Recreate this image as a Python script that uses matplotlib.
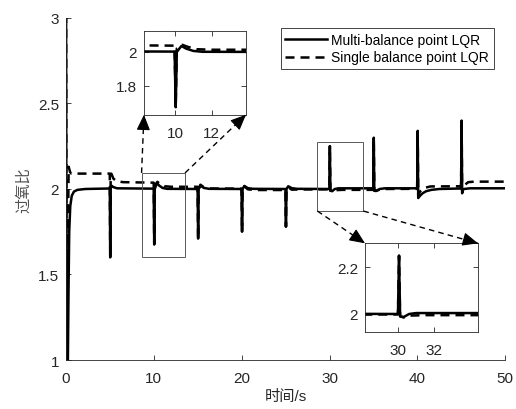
import numpy as np
import matplotlib
matplotlib.use('Agg')
import matplotlib.pyplot as plt
from matplotlib.lines import Line2D
from matplotlib.patches import Rectangle, FancyArrowPatch

plt.rcParams['font.family'] = ['Liberation Sans', 'Noto Sans CJK SC', 'DejaVu Sans']
plt.rcParams['font.size'] = 11

# Multi-balance point LQR (solid)
t_multi = [0, 0.06, 0.2, 0.28, 0.36, 0.48, 0.65, 0.9, 1.3, 2.2, 4.98,
           5.03, 5.08, 5.15, 5.35, 5.8, 9.98,
           10.04, 10.1, 10.35, 10.6, 11.0, 11.5, 14.98,
           15.04, 15.1, 15.3, 15.7, 16.3, 19.98,
           20.04, 20.1, 20.3, 20.7, 21.3, 24.98,
           25.04, 25.1, 25.3, 25.7, 26.3, 29.98,
           30.04, 30.1, 30.3, 30.6, 31.0, 34.98,
           35.04, 35.1, 35.3, 35.7, 36.3, 39.98,
           40.04, 40.1, 40.3, 40.6, 41.0, 41.6, 42.5, 44.98,
           45.04, 45.1, 45.3, 46.0, 50]
y_multi = [3.3, 0.9, 0.95, 1.4, 1.75, 1.9, 1.96, 1.985, 1.995, 2.0, 2.003,
           1.60, 2.0, 2.02, 2.012, 2.004, 2.002,
           1.675, 2.0, 2.035, 2.02, 2.006, 2.001, 2.0,
           1.71, 2.0, 2.02, 2.006, 2.001, 2.0,
           1.75, 2.0, 2.018, 2.005, 2.001, 2.0,
           1.78, 2.0, 2.016, 2.005, 2.001, 2.0,
           2.25, 1.99, 1.987, 2.0, 2.004, 2.004,
           2.30, 1.99, 1.988, 2.0, 2.004, 2.004,
           2.34, 1.947, 1.96, 1.975, 1.987, 1.995, 2.0, 2.003,
           2.40, 1.99, 2.0, 2.004, 2.004]

# Single balance point LQR (dashed)
t_single = [0, 0.06, 0.15, 0.22, 0.3, 0.45, 0.6, 4.98,
            5.03, 5.08, 5.15, 5.4, 5.8, 6.5, 9.98,
            10.04, 10.1, 10.4, 10.7, 11.2, 12.0, 14.98,
            15.04, 15.1, 15.3, 15.7, 16.5, 19.98,
            20.04, 20.1, 20.3, 20.7, 21.5, 24.98,
            25.04, 25.1, 25.3, 25.7, 26.5, 29.98,
            30.04, 30.1, 30.3, 30.6, 31.5, 34.98,
            35.04, 35.1, 35.3, 36.0, 39.98,
            40.04, 40.1, 40.3, 40.7, 41.5, 44.98,
            45.04, 45.1, 45.3, 45.8, 46.5, 50]
y_single = [3.3, 0.95, 1.1, 1.8, 2.13, 2.10, 2.09, 2.09,
            1.61, 2.07, 2.09, 2.06, 2.045, 2.04, 2.037,
            1.68, 2.02, 2.042, 2.03, 2.016, 2.013, 2.013,
            1.71, 2.0, 2.025, 2.01, 2.003, 2.002,
            1.75, 1.99, 2.015, 1.998, 1.994, 1.994,
            1.78, 1.99, 2.01, 1.996, 1.997, 1.998,
            2.25, 1.99, 1.985, 1.993, 1.995, 1.995,
            2.29, 1.99, 1.99, 2.0, 2.001,
            2.335, 1.96, 1.985, 2.005, 2.015, 2.016,
            2.39, 1.975, 2.02, 2.04, 2.043, 2.043]

labels = ['Multi-balance point LQR', 'Single balance point LQR']
x_ticks = [0, 10, 20, 30, 40, 50]
y_ticks = [1, 1.5, 2, 2.5, 3]
y_ticklabels = ['1', '1.5', '2', '2.5', '3']

# zoom regions (main data coords) and inset limits
zoom1 = (8.6, 13.55, 1.6, 2.094)
zoom2 = (28.62, 33.86, 1.871, 2.273)
ins1_lim = (8.31, 13.87, 1.631, 2.125)
ins2_lim = (28.15, 34.43, 1.924, 2.303)

axcol = '#262626'
lw = 1.8
dash = (0, (3.6, 2.4))

fig = plt.figure(figsize=(5.16, 4.10), dpi=100)
ax = fig.add_axes([0.128, 0.1195, 0.851, 0.8342])


def draw(a):
    a.plot(t_multi, y_multi, color='k', lw=lw, label=labels[0])
    a.plot(t_single, y_single, color='k', lw=lw, linestyle=dash, label=labels[1])


def style(a, box):
    for s in ['top', 'right']:
        a.spines[s].set_visible(box)
    for s in a.spines.values():
        s.set_color(axcol)
        s.set_linewidth(0.6)
    a.tick_params(direction='in', length=3.5, width=0.6, colors=axcol,
                  labelsize=11, top=box, right=box)
    a.tick_params(axis='x', pad=8)
    a.tick_params(axis='y', pad=5)


draw(ax)
ax.set_xlim(0, 50)
ax.set_ylim(1, 3)
ax.set_xticks(x_ticks)
ax.set_yticks(y_ticks)
ax.set_yticklabels(y_ticklabels)
style(ax, False)
ax.set_xlabel('时间/s', fontsize=11, color=axcol, labelpad=3)
ax.set_ylabel('过氧比', fontsize=11, color='#505050', labelpad=5)

for z in (zoom1, zoom2):
    ax.add_patch(Rectangle((z[0], z[2]), z[1] - z[0], z[3] - z[2], fill=False,
                           edgecolor='0.35', lw=0.7, zorder=5))

leg = ax.legend(loc='upper right', bbox_to_anchor=(0.957, 0.929),
                bbox_transform=fig.transFigure, fontsize=10, frameon=True,
                fancybox=False, edgecolor=axcol, framealpha=1,
                handlelength=3.0, handletextpad=0.3, borderpad=0.35,
                labelspacing=0.25, borderaxespad=0)
leg.get_frame().set_linewidth(0.6)

ins1 = fig.add_axes([0.279, 0.7178, 0.1977, 0.2049])
draw(ins1)
ins1.set_xlim(ins1_lim[0], ins1_lim[1])
ins1.set_ylim(ins1_lim[2], ins1_lim[3])
ins1.set_xticks([10, 12])
ins1.set_yticks([1.8, 2])
ins1.set_yticklabels(['1.8', '2'])
style(ins1, True)

ins2 = fig.add_axes([0.7074, 0.1885, 0.219, 0.2156])
draw(ins2)
ins2.set_xlim(ins2_lim[0], ins2_lim[1])
ins2.set_ylim(ins2_lim[2], ins2_lim[3])
ins2.set_xticks([30, 32])
ins2.set_yticks([2, 2.2])
ins2.set_yticklabels(['2', '2.2'])
style(ins2, True)


def zoom_arrow(start, ins, corner):
    p0 = ax.transData.transform(start)
    p1 = ins.transAxes.transform(corner)
    u = (p1 - p0) / np.hypot(*(p1 - p0))
    inv = fig.transFigure.inverted()
    f0, f1 = inv.transform(p0), inv.transform(p1)
    fig.add_artist(Line2D([f0[0], f1[0]], [f0[1], f1[1]], transform=fig.transFigure,
                          color='k', lw=1.0, linestyle=(0, (4, 3))))
    fh = inv.transform(p1 - 9 * u)
    fig.add_artist(FancyArrowPatch(fh, f1, transform=fig.transFigure,
                                   arrowstyle='-|>,head_length=0.8,head_width=0.35',
                                   mutation_scale=12, color='k', lw=0.8,
                                   shrinkA=0, shrinkB=0))


zoom_arrow((zoom1[0], zoom1[3]), ins1, (0, 0))
zoom_arrow((zoom1[1], zoom1[3]), ins1, (1, 0))
zoom_arrow((zoom2[0], zoom2[2]), ins2, (0, 1))
zoom_arrow((zoom2[1], zoom2[2]), ins2, (1, 1))

fig.savefig('out.png', dpi=100)
